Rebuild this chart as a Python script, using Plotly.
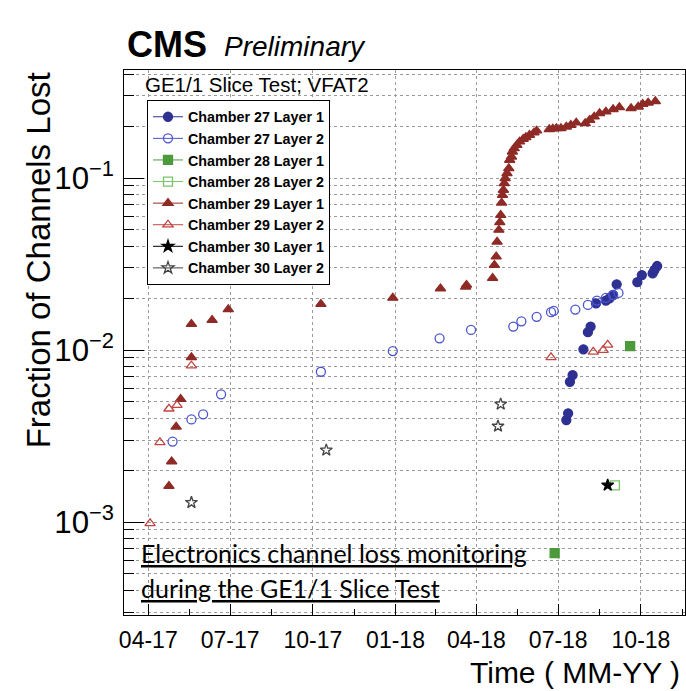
import pandas as pd
import plotly.graph_objects as go

# ---- data ----
ch27_l1_dates = ["2018-07-10", "2018-07-12", "2018-07-14", "2018-07-17", "2018-07-29", "2018-08-03",
                 "2018-08-06", "2018-08-12", "2018-08-23", "2018-08-27", "2018-08-31", "2018-09-04",
                 "2018-09-27", "2018-10-02", "2018-10-14", "2018-10-16", "2018-10-19"]
ch27_l1_vals = [0.00392, 0.00429, 0.00654, 0.00716, 0.0101, 0.0127, 0.0137, 0.0187, 0.0194, 0.0200,
                0.0209, 0.0241, 0.0248, 0.0273, 0.0279, 0.0292, 0.0308]

ch27_l2_dates = ["2017-04-28", "2017-05-19", "2017-06-01", "2017-06-21", "2017-10-10", "2017-12-29",
                 "2018-02-19", "2018-03-26", "2018-05-12", "2018-05-21", "2018-06-07", "2018-06-23",
                 "2018-06-26", "2018-07-20", "2018-08-03", "2018-08-13", "2018-08-23", "2018-08-31",
                 "2018-09-06"]
ch27_l2_vals = [0.00294, 0.00395, 0.00423, 0.00553, 0.00748, 0.00987, 0.0117, 0.0131, 0.0137, 0.0147,
                0.0156, 0.0166, 0.0169, 0.0172, 0.0183, 0.0194, 0.0201, 0.0209, 0.0215]
ch27_l2_xerr_lo = [0, 8, 0, 0, 0, 56, 0, 0, 0, 0, 0, 0, 0, 0, 0, 0, 0, 0, 0]
ch27_l2_xerr_hi = [0, 8, 0, 0, 0, 27, 0, 0, 0, 0, 0, 0, 0, 0, 0, 0, 0, 0, 0]

ch28_l1_dates = ["2018-06-27", "2018-09-19"]
ch28_l1_vals = [0.00066, 0.01055]

ch28_l2_dates = ["2018-09-02"]
ch28_l2_vals = [0.001635]

ch29_l1_dates = ["2017-04-24", "2017-04-27", "2017-05-02", "2017-05-07", "2017-05-19", "2017-05-19",
                 "2017-06-11", "2017-06-29", "2017-10-10", "2017-12-29", "2018-02-20", "2018-03-20",
                 "2018-03-21", "2018-04-19", "2018-04-21", "2018-04-23", "2018-04-24", "2018-04-26",
                 "2018-04-27", "2018-04-28", "2018-04-29", "2018-04-30", "2018-05-01", "2018-05-02",
                 "2018-05-03", "2018-05-05", "2018-05-07", "2018-05-08", "2018-05-10", "2018-05-11",
                 "2018-05-13", "2018-05-16", "2018-05-19", "2018-05-23", "2018-05-26", "2018-05-30",
                 "2018-06-04", "2018-06-07", "2018-06-21", "2018-06-25", "2018-06-29", "2018-07-04",
                 "2018-07-10", "2018-07-15", "2018-07-21", "2018-07-31", "2018-08-05", "2018-08-10",
                 "2018-08-16", "2018-08-23", "2018-08-31", "2018-09-07", "2018-09-20", "2018-09-28",
                 "2018-10-03", "2018-10-09", "2018-10-17"]
ch29_l1_vals = [0.00162, 0.00225, 0.00358, 0.00519, 0.00907, 0.01416, 0.01494, 0.01724, 0.01851, 0.0201,
                0.0228, 0.0233, 0.0239, 0.0262, 0.0312, 0.0349, 0.0426, 0.0499, 0.0553, 0.0609,
                0.0718, 0.0796, 0.0852, 0.0931, 0.0996, 0.1065, 0.1139, 0.1273, 0.1330, 0.1422,
                0.1488, 0.1555, 0.1626, 0.1686, 0.1724, 0.1778, 0.1834, 0.1884, 0.1920, 0.1935,
                0.1945, 0.1945, 0.1987, 0.2033, 0.2097, 0.2080, 0.2174, 0.2272, 0.2378, 0.2430,
                0.2509, 0.2576, 0.2542, 0.2597, 0.2692, 0.2740, 0.2791]
ch29_l1_xerr_lo = [0, 0, 0, 0, 10, 10, 0, 0, 0, 56] + [0] * 47
ch29_l1_xerr_hi = [0, 0, 0, 0, 10, 10, 0, 0, 0, 26] + [0] * 47

ch29_l2_dates = ["2017-04-03", "2017-04-14", "2017-04-24", "2017-05-03", "2017-05-19", "2018-06-23",
                 "2018-08-09", "2018-08-20", "2018-08-25"]
ch29_l2_vals = [0.000983, 0.00291, 0.00456, 0.00479, 0.00811, 0.00907, 0.00977, 0.0100, 0.01073]
ch29_l2_xerr = [0, 0, 0, 0, 10, 0, 0, 0, 0]

ch30_l1_dates = ["2018-08-25"]
ch30_l1_vals = [0.00164]

ch30_l2_dates = ["2017-05-19", "2017-10-16", "2018-04-25", "2018-04-28"]
ch30_l2_vals = [0.0013, 0.00262, 0.00361, 0.00485]
ch30_l2_xerr = [10, 0, 0, 0]

DAY_MS = 86400000


def ms(days):
    return [d * DAY_MS for d in days]


series = [
    # name, dates, values, colour, symbol, xerr minus, xerr plus
    ("Chamber 27 Layer 1", ch27_l1_dates, ch27_l1_vals, "#2e3192", "circle", None, None),
    ("Chamber 27 Layer 2", ch27_l2_dates, ch27_l2_vals, "#4b55d0", "circle-open", ch27_l2_xerr_lo, ch27_l2_xerr_hi),
    ("Chamber 28 Layer 1", ch28_l1_dates, ch28_l1_vals, "#4c9a3c", "square", None, None),
    ("Chamber 28 Layer 2", ch28_l2_dates, ch28_l2_vals, "#7cc46c", "square-open", None, None),
    ("Chamber 29 Layer 1", ch29_l1_dates, ch29_l1_vals, "#8e2b26", "triangle-up", ch29_l1_xerr_lo, ch29_l1_xerr_hi),
    ("Chamber 29 Layer 2", ch29_l2_dates, ch29_l2_vals, "#c0453f", "triangle-up-open", ch29_l2_xerr, ch29_l2_xerr),
    ("Chamber 30 Layer 1", ch30_l1_dates, ch30_l1_vals, "#000000", "star", None, None),
    ("Chamber 30 Layer 2", ch30_l2_dates, ch30_l2_vals, "#444444", "star-open", ch30_l2_xerr, ch30_l2_xerr),
]

fig = go.Figure()

for name, dates, vals, col, sym, elo, ehi in series:
    err = None
    if elo is not None:
        err = dict(type="data", symmetric=False, array=ms(ehi), arrayminus=ms(elo),
                   color=col, thickness=1, width=3)
    fig.add_trace(go.Scatter(
        x=pd.to_datetime(dates), y=vals, mode="markers", name=name, showlegend=False,
        marker=dict(symbol=sym, size=9, color=col, line=dict(color=col, width=1.3)),
        error_x=err,
    ))

# legend-only entries (line + marker like ROOT)
for i, (name, dates, vals, col, sym, elo, ehi) in enumerate(series):
    fig.add_trace(go.Scatter(
        x=[None], y=[None], mode="lines+markers", name="<b>" + name + "</b>", legendgroup=str(i),
        marker=dict(symbol=sym, size=9, color=col, line=dict(color=col, width=1.3)),
        line=dict(color=col, width=1),
    ))

# minor ticks half way between the quarter ticks
quarters = pd.date_range("2017-01-01", "2019-01-01", freq="3MS")
minor_vals = [q + (quarters[k + 1] - q) / 2 for k, q in enumerate(quarters[:-1])]

grid = dict(showgrid=True, gridcolor="#9a9a9a", gridwidth=1, griddash="dot")

fig.update_xaxes(
    type="date", range=["2017-03-05", "2018-11-19"], automargin=False,
    tickmode="linear", tick0="2017-04-01", dtick="M3", tickformat="%m-%y",
    ticks="inside", ticklen=11, tickcolor="black",
    minor=dict(tickmode="array", tickvals=minor_vals, ticks="inside", ticklen=6, tickcolor="black", showgrid=False),
    showline=True, linecolor="black", linewidth=1, mirror=True,
    tickfont=dict(family="Liberation Sans", size=23, color="black"),
    ticklabelstandoff=4,
    **grid,
)
fig.update_yaxes(
    type="log", range=[-3.54, -0.372], dtick=1, exponentformat="power", automargin=False,
    ticks="inside", ticklen=20, tickcolor="black",
    minor=dict(dtick="D1", ticks="inside", ticklen=10, tickcolor="black",
               showgrid=True, gridcolor="#9a9a9a", griddash="dot"),
    showline=True, linecolor="black", linewidth=1, mirror=True,
    tickfont=dict(family="Liberation Sans", size=25, color="black"),
    ticklabelstandoff=4,
    **grid,
)

ann = [
    dict(x=0.002, y=1.046, text="<b>CMS</b>", font=dict(size=36), xanchor="left"),
    dict(x=0.175, y=1.043, text="<i>Preliminary</i>", font=dict(size=28), xanchor="left"),
    dict(x=0.034, y=0.974, text="GE1/1 Slice Test; VFAT2", font=dict(size=20.5), xanchor="left"),
    dict(x=-0.153, y=0.651, text="Fraction of Channels Lost", font=dict(size=33), textangle=-90,
         xanchor="center"),
    dict(x=0.995, y=-0.105, text="Time ( MM-YY )", font=dict(size=30), xanchor="right"),
    dict(x=0.026, y=0.114, text="<u>Electronics channel loss monitoring</u>",
         font=dict(family="Lato", size=25), xanchor="left"),
    dict(x=0.026, y=0.05, text="<u>during the GE1/1 Slice Test</u>",
         font=dict(family="Lato", size=25), xanchor="left"),
]
for a in ann:
    a.update(xref="paper", yref="paper", showarrow=False, yanchor="middle")
    a["font"].setdefault("family", "Liberation Sans")
    a["font"]["color"] = "black"

fig.update_layout(
    width=686, height=691,
    margin=dict(l=124, r=1, t=70, b=76),
    paper_bgcolor="white", plot_bgcolor="white",
    annotations=ann,
    showlegend=True,
    legend=dict(
        x=0.041, y=0.945, xanchor="left", yanchor="top",
        bordercolor="black", borderwidth=1, bgcolor="white",
        font=dict(family="Liberation Sans", size=14.3, color="black"),
        tracegroupgap=0, itemwidth=30,
    ),
)

# page has a default 8px body margin, drop it so the figure sits at the window corner
fig.write_html("out.html", config={"displayModeBar": False},
               post_script="document.body.style.margin='0px';")
